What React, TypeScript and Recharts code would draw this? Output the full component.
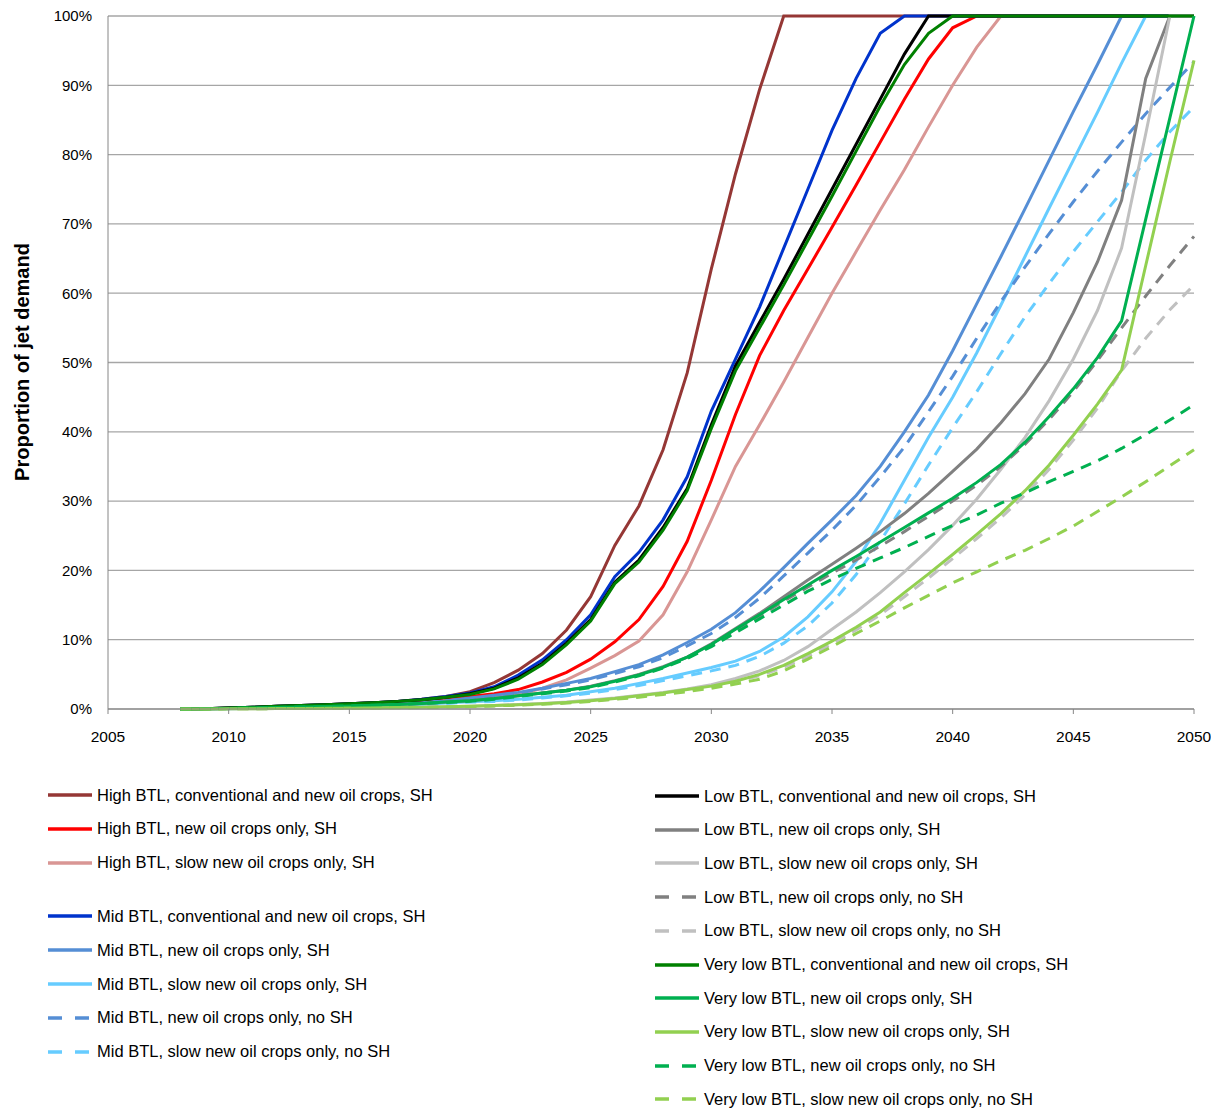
import React from "react";
import { CartesianGrid, Line, LineChart, XAxis, YAxis } from "recharts";

const years = [
  2008, 2009, 2010, 2011, 2012, 2013, 2014, 2015, 2016, 2017, 2018, 2019, 2020, 2021, 2022,
  2023, 2024, 2025, 2026, 2027, 2028, 2029, 2030, 2031, 2032, 2033, 2034, 2035, 2036, 2037,
  2038, 2039, 2040, 2041, 2042, 2043, 2044, 2045, 2046, 2047, 2048, 2049, 2050,
];

const xTicks = [2005, 2010, 2015, 2020, 2025, 2030, 2035, 2040, 2045, 2050];
const yTicks = [0, 10, 20, 30, 40, 50, 60, 70, 80, 90, 100];

// % of jet demand, 2008..2050
const highConv = [0, 0.05, 0.15, 0.25, 0.4, 0.5, 0.6, 0.75, 0.9, 1.1, 1.4, 1.8, 2.5, 3.8, 5.6, 8.0, 11.4, 16.2, 23.6, 29.3, 37.4, 48.5, 63.5, 77.2, 89.4, 100, 100, 100, 100, 100, 100, 100, 100, 100, 100, 100, 100, 100, 100, 100, 100, 100, 100];
const highNew = [0, 0.03, 0.1, 0.2, 0.3, 0.4, 0.5, 0.6, 0.75, 0.9, 1.15, 1.45, 1.8, 2.2, 2.8, 3.9, 5.3, 7.2, 9.7, 12.9, 17.7, 24.2, 33, 42.5, 51, 57.5, 63.5, 69.5, 75.6, 81.8, 88, 93.8, 98.3, 100, 100, 100, 100, 100, 100, 100, 100, 100, 100];
const highSlow = [0, 0.02, 0.08, 0.15, 0.25, 0.3, 0.4, 0.5, 0.6, 0.75, 0.9, 1.15, 1.4, 1.7, 2.1, 3.0, 4.2, 5.9, 7.7, 9.8, 13.6, 19.8, 27.3, 35, 41, 47.2, 53.6, 60, 66, 72, 77.8, 84, 90, 95.5, 100, 100, 100, 100, 100, 100, 100, 100, 100];

const midConv = [0, 0.05, 0.15, 0.25, 0.4, 0.5, 0.6, 0.75, 0.9, 1.1, 1.4, 1.8, 2.3, 3.2, 4.9, 7.1, 10, 13.6, 19.1, 22.6, 27.3, 33.5, 43, 50.5, 58, 66.5, 75, 83.5, 91, 97.5, 100, 100, 100, 100, 100, 100, 100, 100, 100, 100, 100, 100, 100];
const midNew = [0, 0.02, 0.08, 0.15, 0.2, 0.3, 0.35, 0.45, 0.55, 0.7, 0.9, 1.2, 1.6, 2.0, 2.4, 3.0, 3.7, 4.4, 5.4, 6.4, 7.8, 9.6, 11.5, 13.9, 17.0, 20.4, 23.9, 27.3, 30.8, 35, 40, 45.3, 51.7, 58.5, 65.3, 72.2, 79.2, 86.2, 93, 100, 100, 100, 100];
const midSlow = [0, 0.01, 0.05, 0.1, 0.15, 0.2, 0.25, 0.3, 0.4, 0.5, 0.65, 0.85, 1.05, 1.2, 1.4, 1.7, 2.0, 2.5, 3.0, 3.7, 4.4, 5.2, 6.0, 6.9, 8.3, 10.4, 13.3, 16.9, 21.3, 26.8, 33, 39.2, 45, 51.4, 58.3, 65.3, 72.3, 79.2, 86.1, 93.2, 100, 100, 100];
const midNewNoSh = [0, 0.02, 0.08, 0.15, 0.2, 0.3, 0.35, 0.45, 0.55, 0.7, 0.9, 1.15, 1.5, 1.9, 2.3, 2.9, 3.5, 4.2, 5.1, 6.1, 7.4, 9.1, 10.9, 13.2, 16.0, 19.2, 22.5, 25.8, 29.4, 33.5, 37.8, 42.9, 48, 53.5, 58.8, 63.8, 68.6, 73.2, 77.6, 81.8, 85.9, 89.7, 93.4];
const midSlowNoSh = [0, 0.01, 0.04, 0.08, 0.12, 0.18, 0.22, 0.28, 0.36, 0.45, 0.6, 0.8, 1.0, 1.1, 1.3, 1.6, 1.9, 2.3, 2.8, 3.4, 4.1, 4.8, 5.5, 6.3, 7.6, 9.5, 12.0, 15.3, 19.4, 24.2, 29.6, 35.2, 40.6, 45.8, 51.3, 56.6, 61.4, 66, 70.3, 74.6, 79.2, 83.3, 86.9];

const lowConv = [0, 0.05, 0.15, 0.25, 0.4, 0.5, 0.6, 0.75, 0.9, 1.1, 1.35, 1.7, 2.2, 3.0, 4.5, 6.6, 9.5, 12.9, 18.3, 21.5, 26.2, 31.8, 41, 49.5, 55.8, 62, 68.5, 75, 81.5, 88, 94.5, 100, 100, 100, 100, 100, 100, 100, 100, 100, 100, 100, 100];
const lowNew = [0, 0.02, 0.08, 0.15, 0.2, 0.3, 0.35, 0.45, 0.55, 0.65, 0.8, 1.0, 1.2, 1.5, 1.9, 2.3, 2.7, 3.3, 4.1, 5.0, 6.1, 7.5, 9.4, 11.6, 13.8, 16.2, 18.6, 20.9, 23.2, 25.6, 28.2, 31.1, 34.3, 37.5, 41.3, 45.5, 50.5, 57.2, 64.5, 73.4, 91, 100, 100];
const lowSlow = [0, 0, 0.02, 0.04, 0.06, 0.08, 0.1, 0.13, 0.16, 0.2, 0.25, 0.32, 0.4, 0.5, 0.65, 0.8, 1.0, 1.3, 1.6, 2.0, 2.4, 2.9, 3.5, 4.4, 5.5, 7.0, 9.0, 11.5, 14, 16.8, 19.8, 23, 26.5, 30.3, 34.6, 39.2, 44.5, 50.5, 57.5, 66.5, 83, 100, 100];
const lowNewNoSh = [0, 0.02, 0.08, 0.15, 0.2, 0.3, 0.35, 0.45, 0.55, 0.65, 0.8, 1.0, 1.2, 1.5, 1.9, 2.3, 2.7, 3.2, 4.0, 4.9, 6.0, 7.4, 9.1, 11.2, 13.4, 15.6, 17.6, 19.6, 21.5, 23.5, 25.6, 27.8, 30, 32.3, 35, 38.2, 41.8, 45.8, 50.3, 55, 59.6, 64, 68.2];
const lowSlowNoSh = [0, 0, 0.02, 0.04, 0.06, 0.08, 0.1, 0.12, 0.15, 0.18, 0.22, 0.28, 0.35, 0.45, 0.6, 0.75, 0.9, 1.15, 1.45, 1.8, 2.2, 2.7, 3.2, 3.9, 4.8, 6.0, 7.6, 9.4, 11.4, 13.6, 16.2, 18.9, 21.7, 24.6, 27.6, 30.9, 34.6, 38.8, 43.4, 48.8, 53.5, 57.6, 61.2];

const veryLowConv = [0, 0.05, 0.15, 0.25, 0.4, 0.5, 0.6, 0.75, 0.9, 1.1, 1.35, 1.7, 2.1, 2.9, 4.3, 6.4, 9.3, 12.7, 18.1, 21.2, 25.8, 31.5, 40.5, 48.8, 55, 61.2, 67.6, 74, 80.5, 87, 93, 97.5, 100, 100, 100, 100, 100, 100, 100, 100, 100, 100, 100];
const veryLowNew = [0, 0.02, 0.08, 0.15, 0.2, 0.3, 0.35, 0.45, 0.55, 0.65, 0.8, 1.0, 1.2, 1.5, 1.9, 2.3, 2.7, 3.2, 4.0, 4.9, 6.0, 7.5, 9.3, 11.5, 13.6, 15.8, 17.9, 20, 22, 24.1, 26.2, 28.3, 30.4, 32.7, 35.3, 38.5, 42.2, 46.2, 50.7, 56, 70.7, 85.3, 100];
const veryLowSlow = [0, 0, 0.02, 0.04, 0.06, 0.08, 0.1, 0.13, 0.16, 0.2, 0.25, 0.32, 0.4, 0.5, 0.6, 0.75, 0.95, 1.2, 1.5, 1.9, 2.3, 2.8, 3.3, 4.0, 5.0, 6.3, 8.0, 9.8, 11.8, 14.0, 16.8, 19.5, 22.3, 25.2, 28.2, 31.5, 35.2, 39.5, 44, 48.9, 64, 79, 93.6];
const veryLowNewNoSh = [0, 0.02, 0.08, 0.15, 0.2, 0.3, 0.35, 0.45, 0.55, 0.65, 0.8, 0.95, 1.1, 1.4, 1.8, 2.2, 2.6, 3.1, 3.9, 4.8, 5.9, 7.3, 9.0, 11.0, 13.0, 15.0, 17.0, 18.7, 20.3, 21.8, 23.3, 24.9, 26.5, 28.0, 29.7, 31.2, 32.8, 34.3, 35.8, 37.6, 39.6, 41.7, 43.9];
const veryLowSlowNoSh = [0, 0, 0.02, 0.04, 0.06, 0.08, 0.1, 0.12, 0.15, 0.18, 0.22, 0.28, 0.35, 0.45, 0.55, 0.7, 0.85, 1.1, 1.4, 1.7, 2.1, 2.5, 3.0, 3.6, 4.3, 5.5, 7.2, 9.0, 10.9, 12.7, 14.6, 16.4, 18.2, 19.8, 21.4, 22.9, 24.6, 26.4, 28.5, 30.6, 32.8, 35.1, 37.4];

type Series = { key: string; name: string; color: string; dashed: boolean; values: number[] };

const series: Series[] = [
  { key: "highConv", name: "High BTL,  conventional and new oil crops, SH", color: "#953735", dashed: false, values: highConv },
  { key: "highNew", name: "High BTL,  new oil crops only, SH", color: "#ff0000", dashed: false, values: highNew },
  { key: "highSlow", name: "High BTL,  slow new oil crops only, SH", color: "#d99694", dashed: false, values: highSlow },
  { key: "midConv", name: "Mid BTL, conventional and new oil crops, SH", color: "#0033cc", dashed: false, values: midConv },
  { key: "midNew", name: "Mid BTL, new oil crops only, SH", color: "#558ed5", dashed: false, values: midNew },
  { key: "midSlow", name: "Mid BTL, slow new oil crops only, SH", color: "#66ccff", dashed: false, values: midSlow },
  { key: "midNewNoSh", name: "Mid BTL, new oil crops only, no SH", color: "#558ed5", dashed: true, values: midNewNoSh },
  { key: "midSlowNoSh", name: "Mid BTL, slow new oil crops only, no SH", color: "#66ccff", dashed: true, values: midSlowNoSh },
  { key: "lowConv", name: "Low BTL, conventional and new oil crops, SH", color: "#000000", dashed: false, values: lowConv },
  { key: "lowNew", name: "Low BTL, new oil crops only, SH", color: "#808080", dashed: false, values: lowNew },
  { key: "lowSlow", name: "Low BTL, slow new oil crops only, SH", color: "#c0c0c0", dashed: false, values: lowSlow },
  { key: "lowNewNoSh", name: "Low BTL, new oil crops only, no SH", color: "#808080", dashed: true, values: lowNewNoSh },
  { key: "lowSlowNoSh", name: "Low BTL, slow new oil crops only, no SH", color: "#c0c0c0", dashed: true, values: lowSlowNoSh },
  { key: "veryLowConv", name: "Very low BTL, conventional and new oil crops, SH", color: "#008000", dashed: false, values: veryLowConv },
  { key: "veryLowNew", name: "Very low BTL, new oil crops only, SH", color: "#00b050", dashed: false, values: veryLowNew },
  { key: "veryLowSlow", name: "Very low BTL, slow new oil crops only, SH", color: "#92d050", dashed: false, values: veryLowSlow },
  { key: "veryLowNewNoSh", name: "Very low BTL, new oil crops only, no SH", color: "#00b050", dashed: true, values: veryLowNewNoSh },
  { key: "veryLowSlowNoSh", name: "Very low BTL, slow new oil crops only, no SH", color: "#92d050", dashed: true, values: veryLowSlowNoSh },
];

const rows = years.map((year, i) => {
  const row: Record<string, number> = { year };
  series.forEach((s) => (row[s.key] = s.values[i]));
  return row;
});

function LegendItem({ s, left, top }: { s: Series; left: number; top: number }) {
  return (
    <div style={{ position: "absolute", left, top: top - 10, height: 20, display: "flex", alignItems: "center", whiteSpace: "nowrap" }}>
      <svg width={44} height={8} style={{ marginRight: 5 }}>
        <line x1={0} y1={4} x2={44} y2={4} stroke={s.color} strokeWidth={3.5} strokeDasharray={s.dashed ? "14 13" : undefined} />
      </svg>
      <span style={{ fontSize: 16.5, color: "#000" }}>{s.name}</span>
    </div>
  );
}

export default function App() {
  const leftCol = series.slice(0, 8);
  const rightCol = series.slice(8);
  return (
    <div style={{ position: "relative", width: 1211, height: 1100, fontFamily: "'Liberation Sans', Arial, sans-serif", background: "#fff" }}>
      <LineChart width={1211} height={760} data={rows} margin={{ top: 8, right: 25, bottom: 20, left: 0 }}>
        <CartesianGrid vertical={false} stroke="#a6a6a6" strokeWidth={1.3} />
        <XAxis
          type="number"
          dataKey="year"
          domain={[2005, 2050]}
          ticks={xTicks}
          interval={0}
          height={39}
          stroke="#868686"
          tickSize={5}
          tickMargin={17}
          tick={{ fill: "#000", fontSize: 15.5 }}
        />
        <YAxis
          domain={[0, 100]}
          ticks={yTicks}
          interval={0}
          width={100}
          tickFormatter={(v: number) => `${v}%`}
          tickLine={false}
          axisLine={{ stroke: "#868686" }}
          tickMargin={10}
          tick={{ fill: "#000", fontSize: 15 }}
        />
        {series.map((s) => (
          <Line
            key={s.key}
            type="linear"
            dataKey={s.key}
            stroke={s.color}
            strokeWidth={3}
            strokeDasharray={s.dashed ? "11 8" : undefined}
            dot={false}
            activeDot={false}
            isAnimationActive={false}
          />
        ))}
      </LineChart>
      <div
        style={{
          position: "absolute",
          left: 14,
          top: 354,
          transform: "translate(-50%, -50%) rotate(-90deg)",
          whiteSpace: "nowrap",
          fontWeight: "bold",
          fontSize: 20,
          color: "#000",
        }}
      >
        Proportion of jet demand
      </div>
      {leftCol.map((s, i) => (
        <LegendItem key={s.key} s={s} left={40} top={787 + i * 33.8 + (i >= 3 ? 20 : 0)} />
      ))}
      {rightCol.map((s, i) => (
        <LegendItem key={s.key} s={s} left={647} top={788 + i * 33.7} />
      ))}
    </div>
  );
}
